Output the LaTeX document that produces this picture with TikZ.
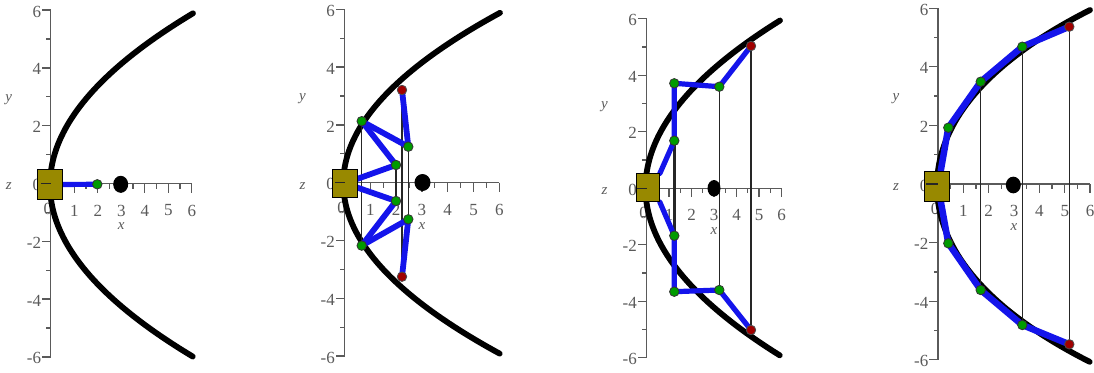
\documentclass[tikz,border=0pt]{standalone}
\usepackage{fontspec}
\setmainfont{Liberation Serif}
\usetikzlibrary{shapes.geometric}
\pgfdeclarelayer{back}
\pgfdeclarelayer{mid}
\pgfsetlayers{back,mid,main}
\definecolor{olivebox}{RGB}{152,137,0}
\definecolor{axisgray}{RGB}{90,90,90}
\definecolor{linkblue}{RGB}{20,20,235}
\definecolor{dotgreen}{RGB}{0,155,0}
\definecolor{dotred}{RGB}{160,0,0}
\tikzset{
  axisline/.style={draw=axisgray, line width=1.3pt},
  ticklab/.style={font=\fontsize{17}{17}\selectfont, text=axisgray, inner sep=0pt},
  varlab/.style={font=\fontsize{15}{15}\selectfont\itshape, text=axisgray, inner sep=0pt},
  curve/.style={line width=5.8pt, line cap=round, draw=black},
  link/.style={line width=5.2pt, draw=linkblue, line cap=round, line join=round},
  rod/.style={line width=1.5pt, draw=black!85},
  gdot/.style={circle, fill=dotgreen, draw=black!80, line width=0.8pt, minimum size=9.5pt, inner sep=0pt},
  rdot/.style={circle, fill=dotred, draw=black!70, line width=0.8pt, minimum size=9.5pt, inner sep=0pt},
  focus/.style={ellipse, fill=black, minimum width=15pt, minimum height=17pt, inner sep=0pt},
  block/.style={rectangle, fill=olivebox, draw=black, line width=1pt, inner sep=0pt},
  zerotick/.style={draw=black!85, line width=1.2pt}
}
% axes: #1 x0, #2 y0, #3 unit x, #4 unit y (pixels)
\newcommand{\plotaxes}[4]{%
  \begin{scope}[shift={(#1,#2)}, x=#3pt, y=#4pt]
    \draw[axisline] (0,-6) -- (0,6);
    \draw[axisline] (0,0) -- (6,0);
    \foreach \i in {-6,-4,...,6} {
      \draw[axisline] (0,\i) -- ++(-9pt,0pt);
      \node[ticklab, anchor=east] at ([xshift=-9.5pt,yshift=-1.5pt]0,\i) {\i};
    }
    \foreach \i in {-5,-3,...,5} {
      \draw[axisline] (0,\i) -- ++(-4.5pt,0pt);
    }
    \foreach \i in {1,...,6} {
      \draw[axisline] (\i,0) -- ++(0pt,-9pt);
      \node[ticklab] at ([yshift=-27pt]\i,0) {\i};
    }
    \node[ticklab] at ([xshift=-3pt,yshift=-25pt]0,0) {0};
    \foreach \i in {0.5,1.5,...,5.5} {
      \draw[axisline] (\i,0) -- ++(0pt,-5pt);
    }
    \node[varlab] at ([yshift=-43pt]3,0) {x};
    \node[varlab] at ([xshift=-42pt]0,2.9) {y};
    \node[varlab] at ([xshift=-42pt,yshift=-3pt]0,0) {z};
  \end{scope}}
\begin{document}
\begin{tikzpicture}[x=1pt,y=-1pt]
\useasboundingbox (0,0) rectangle (1094,372);
\begin{pgfonlayer}{back}
  \fill[white] (0,0) rectangle (1094,372);
  \plotaxes{50.8}{183.5}{23.5}{28.9}
  \plotaxes{344.5}{182.7}{25.8}{28.9}
  \plotaxes{646.5}{188.3}{22.5}{28.25}
  \plotaxes{938}{184}{25.35}{29.3}
  % reflector curves
  \draw[curve] plot[domain=-1:1, samples=90, variable=\t] ({50+143*\t*\t},{185+171.7*\t});
  \draw[curve] plot[domain=-1:1, samples=90, variable=\t] ({343.3+156.7*\t*\t},{183.3+170.5*\t});
  \draw[curve] plot[domain=-1:1, samples=90, variable=\t] ({645.5+134.5*\t*\t},{188+167.5*\t});
  \draw[curve] plot[domain=-1:1, samples=90, variable=\t] ({937+132.4*\t*\t+20.6*\t*\t*\t*\t},{186+176*\t});
\end{pgfonlayer}

% ---------- panel 1 ----------
\node[block, minimum width=25pt, minimum height=30pt] (sqA) at (50,184.5) {};
\node[gdot] (gA) at (97.3,184.3) {};
\node[focus] (fA) at (120.7,184.3) {};
\draw[zerotick] (40.7,183.5) -- (50.8,183.5);
\begin{pgfonlayer}{mid}
  \draw[link] (sqA.center) -- (gA.center);
\end{pgfonlayer}

% ---------- panel 2 ----------
\node[block, minimum width=25pt, minimum height=28pt] (sqB) at (345,183.3) {};
\node[focus, minimum width=16pt, minimum height=17pt] (fB) at (422.5,182.5) {};
\node[gdot] (bA) at (361.7,121.2) {};
\node[gdot] (bB) at (361.7,245.6) {};
\node[rdot] (bC) at (402,90) {};
\node[rdot] (bD) at (402,276.7) {};
\node[gdot] (bE) at (408.3,146.7) {};
\node[gdot] (bF) at (408.3,219.3) {};
\node[gdot] (bG) at (396,165) {};
\node[gdot] (bH) at (396,201) {};
\draw[zerotick] (335,182.7) -- (344.5,182.7);
\begin{pgfonlayer}{mid}
  \draw[rod] (bA.center) -- (bB.center);
  \draw[rod] (bG.center) -- (bH.center);
  \draw[rod] (bC.center) -- (bD.center);
  \draw[rod] (bE.center) -- (bF.center);
  \draw[link, line width=5.8pt] (bA.center) -- (bE.center);
  \draw[link, line width=5.8pt] (bA.center) -- (bG.center);
  \draw[link, line width=5.8pt] (sqB.center) -- (bG.center);
  \draw[link, line width=5.8pt] (sqB.center) -- (bH.center);
  \draw[link, line width=5.8pt] (bB.center) -- (bH.center);
  \draw[link, line width=5.8pt] (bB.center) -- (bF.center);
  \draw[link, line width=5.8pt] (bC.center) -- (bE.center);
  \draw[link, line width=5.8pt] (bD.center) -- (bF.center);
\end{pgfonlayer}

% ---------- panel 3 ----------
\node[block, minimum width=23.3pt, minimum height=27.7pt] (sqC) at (647.7,187.8) {};
\node[focus, minimum width=13pt, minimum height=16.5pt] (fC) at (714,188.3) {};
\node[gdot] (cP) at (674.3,83.3) {};
\node[gdot] (cQ) at (719.3,86.7) {};
\node[rdot] (cR) at (751,46) {};
\node[gdot] (cS) at (674.3,140.7) {};
\node[gdot] (cT) at (674.3,235.7) {};
\node[gdot] (cU) at (674.3,291.7) {};
\node[gdot] (cV) at (719.3,290) {};
\node[rdot] (cW) at (751,330) {};
\draw[zerotick] (637,188.3) -- (646.5,188.3);
\begin{pgfonlayer}{mid}
  \draw[rod, line width=2.6pt] (cP.center) -- (cU.center);
  \draw[rod] (cQ.center) -- (cV.center);
  \draw[rod] (cR.center) -- (cW.center);
  \draw[link] (sqC.north east) -- (cS.center) -- (cP.center) -- (cQ.center) -- (cR.center);
  \draw[link] (sqC.south east) -- (cT.center) -- (cU.center) -- (cV.center) -- (cW.center);
\end{pgfonlayer}

% ---------- panel 4 ----------
\node[block, minimum width=25pt, minimum height=30pt] (sqD) at (936.8,186) {};
\node[focus, minimum width=15pt, minimum height=16.7pt] (fD) at (1013.3,185) {};
\node[gdot] (dA) at (948.3,127.7) {};
\node[gdot] (dB) at (980.7,81.7) {};
\node[gdot] (dC) at (1022.3,46.7) {};
\node[rdot] (dD) at (1069.3,26.7) {};
\node[gdot] (dE) at (948.3,243.3) {};
\node[gdot] (dF) at (980.7,290) {};
\node[gdot] (dG) at (1022.3,325) {};
\node[rdot] (dH) at (1069.3,344.3) {};
\draw[zerotick] (926,184) -- (938,184);
\begin{pgfonlayer}{mid}
  \draw[rod] (dB.center) -- (dF.center);
  \draw[rod] (dC.center) -- (dG.center);
  \draw[rod] (dD.center) -- (dH.center);
  \draw[link, line width=6.5pt] ([xshift=4pt]sqD.north) -- (dA.center) -- (dB.center) -- (dC.center) -- (dD.center);
  \draw[link, line width=6.5pt] ([xshift=4pt]sqD.south) -- (dE.center) -- (dF.center) -- (dG.center) -- (dH.center);
\end{pgfonlayer}
\end{tikzpicture}
\end{document}
